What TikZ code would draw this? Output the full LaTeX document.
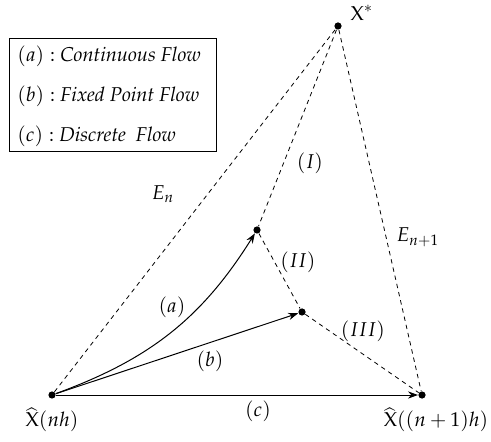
\documentclass[tikz,border=0pt]{standalone}
\usepackage[T1]{fontenc}
\usepackage{amsmath,amssymb}
\usepackage{mathpazo}
\usepackage{tikz}
\usetikzlibrary{arrows.meta}
\tikzset{
  pt/.style={circle, fill, inner sep=0pt, minimum size=3.6pt},
  flow/.style={-{Stealth[length=5pt,width=3.6pt]}, line width=0.5pt},
  err/.style={dash pattern=on 2.2pt off 2pt, line width=0.4pt},
  lbl/.style={inner sep=0.5pt},
}
\begin{document}
\begin{tikzpicture}[x=0.5pt, y=-0.5pt]
\useasboundingbox (0,0) rectangle (491,442);
% legend box
\draw[line width=0.4pt] (9,38) rectangle (216,151);
\node[anchor=west, lbl] (la) at (16,56) {$(a):$ \textit{Continuous Flow}};
\node[anchor=west, lbl] (lb) at (16,96) {$(b):$ \textit{Fixed Point Flow}};
\node[anchor=west, lbl] (lc) at (16,136) {$(c):$ \textit{Discrete~ Flow}};
% points
\node[pt] (A) at (52,395) {};
\node[pt] (B) at (422,395) {};
\node[pt] (S) at (338,26) {};
\node[pt] (P) at (257,230) {};
\node[pt] (Q) at (302,312) {};
\node[lbl] (Alab) at (52,420) {$\widehat{\mathrm{X}}(nh)$};
\node[lbl] (Blab) at (436,420) {$\widehat{\mathrm{X}}((n+1)h)$};
\node[lbl] (Slab) at (362,13) {$\mathrm{X}^{*}$};
% error paths
\draw[err] (A) -- (S);
\draw[err] (S) -- (P);
\draw[err] (S) -- (B);
\draw[err] (P) -- (Q);
\draw[err] (Q) -- (B);
\node[lbl] (En) at (163,194) {$E_n$};
\node[lbl] (En1) at (418,237) {$E_{n+1}$};
\node[lbl] (I) at (310,163) {$(I)$};
\node[lbl] (II) at (298,262) {$(II)$};
\node[lbl] (III) at (363,331) {$(III)$};
% flows
\draw[flow] (A) to[out=20, in=238] (P);
\draw[flow] (A) -- (Q);
\draw[flow] (A) -- (B);
\node[lbl] (fa) at (172,307) {$(a)$};
\node[lbl] (fb) at (210,361) {$(b)$};
\node[lbl] (fc) at (258,411) {$(c)$};
\end{tikzpicture}
\end{document}
